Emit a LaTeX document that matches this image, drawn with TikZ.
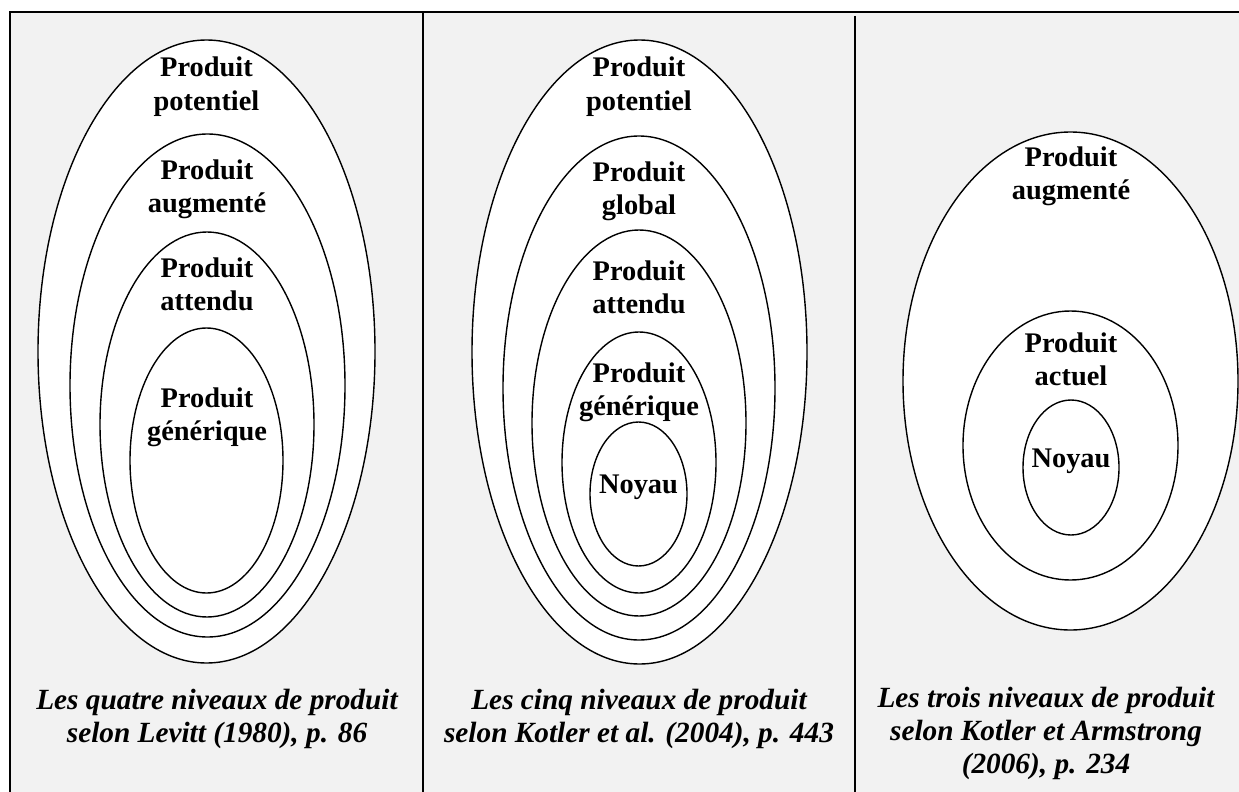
\documentclass[tikz,border=0pt]{standalone}
\usepackage{fontspec}
\setmainfont{Liberation Serif}
\usetikzlibrary{shapes.geometric}
\definecolor{panelgray}{HTML}{F2F2F2}
\begin{document}
\begin{tikzpicture}[x=1pt,y=-1pt,
  ring/.style={ellipse,draw=black,line width=1.4pt,fill=white,inner sep=0pt},
  lbl/.style={font=\fontsize{28.4}{33}\selectfont\bfseries,align=center,anchor=base,inner sep=0pt},
  captxt/.style={font=\fontsize{29.3}{33}\selectfont\bfseries\itshape,align=center,anchor=base,inner sep=0pt},
  frameline/.style={draw=black,line width=2pt}]
\useasboundingbox (0,0) rectangle (1239,792);
\fill[white] (0,0) rectangle (1239,792);
\fill[panelgray] (10,12) rectangle (1239,792);
\draw[frameline] (10,792) -- (10,12) -- (1239,12);
\draw[frameline] (423,12) -- (423,792);
\draw[frameline] (854.5,16) -- (854.5,792);

% Panel 1 : Levitt
\node[ring,minimum width=337pt,minimum height=623pt] (l1) at (206.5,351.5) {};
\node[ring,minimum width=275pt,minimum height=503pt] (l2) at (207.5,385.5) {};
\node[ring,minimum width=214pt,minimum height=385pt] (l3) at (207,424.5) {};
\node[ring,minimum width=153pt,minimum height=265pt] (l4) at (206.5,460.5) {};
\node[lbl] (t11) at (206.5,110) {Produit\\potentiel};
\node[lbl] (t12) at (207,212) {Produit\\augmenté};
\node[lbl] (t13) at (207,310) {Produit\\attendu};
\node[lbl] (t14) at (207,440) {Produit\\générique};
\node[captxt] (c1) at (217,742) {Les quatre niveaux de produit\\selon Levitt (1980), p. 86};

% Panel 2 : Kotler et al.
\node[ring,minimum width=335pt,minimum height=624pt] (k1) at (639.5,352) {};
\node[ring,minimum width=272pt,minimum height=504pt] (k2) at (639,388) {};
\node[ring,minimum width=214pt,minimum height=386pt] (k3) at (639,423) {};
\node[ring,minimum width=154pt,minimum height=261pt] (k4) at (639,462.5) {};
\node[ring,minimum width=97pt,minimum height=144pt] (k5) at (638.5,494) {};
\node[lbl] (t21) at (639,110) {Produit\\potentiel};
\node[lbl] (t22) at (639,214) {Produit\\global};
\node[lbl] (t23) at (639,313) {Produit\\attendu};
\node[lbl] (t24) at (639,415) {Produit\\générique};
\node[lbl] (t25) at (638.5,493) {Noyau};
\node[captxt] (c2) at (639,742) {Les cinq niveaux de produit\\selon Kotler et al. (2004), p. 443};

% Panel 3 : Kotler et Armstrong
\node[ring,minimum width=335pt,minimum height=498pt] (a1) at (1070.5,381) {};
\node[ring,minimum width=215pt,minimum height=269pt] (a2) at (1070.5,445.5) {};
\node[ring,minimum width=96pt,minimum height=135pt] (a3) at (1071,467.5) {};
\node[lbl] (t31) at (1071,199) {Produit\\augmenté};
\node[lbl] (t32) at (1071,385) {Produit\\actuel};
\node[lbl] (t33) at (1071,467) {Noyau};
\node[captxt] (c3) at (1046,773) {Les trois niveaux de produit\\selon Kotler et Armstrong\\(2006), p. 234};
\end{tikzpicture}
\end{document}
